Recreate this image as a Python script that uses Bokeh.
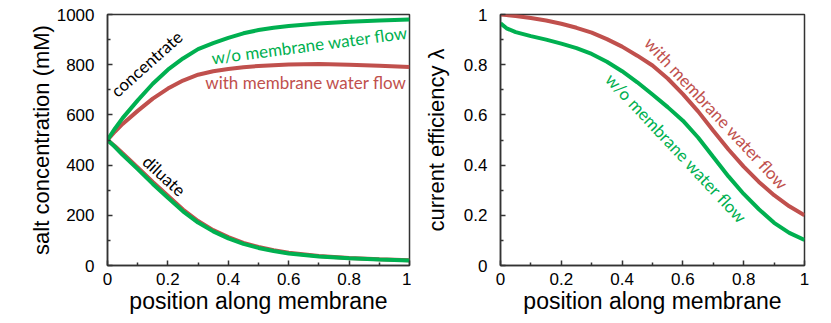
from bokeh.plotting import figure
from bokeh.layouts import row
from bokeh.models import Range1d, FixedTicker, Label
from bokeh.embed import file_html
from bokeh.resources import INLINE

# ---------------- data ----------------
x_conc = [0, 0.025, 0.05, 0.1, 0.15, 0.2, 0.25, 0.3, 0.35, 0.4, 0.45, 0.5, 0.55,
          0.6, 0.7, 0.8, 0.9, 1.0]
conc_wo = [500, 546, 587, 658, 724, 780, 825, 862, 886, 907, 925, 938, 947,
           954, 964, 971, 976, 980]
conc_with = [500, 534, 564, 616, 665, 705, 737, 760, 774, 783, 790, 795, 798,
             801, 803, 800, 796, 791]
dil_wo = [500, 472, 441, 384, 325, 270, 216, 171, 136, 108, 86, 70, 58,
          48, 36, 29, 24, 20]
dil_with = [500, 475, 447, 391, 333, 278, 223, 177, 141, 113, 90, 74, 61,
            51, 38, 30, 25, 21]

x_eff = [0, 0.02, 0.05, 0.1, 0.15, 0.2, 0.25, 0.3, 0.35, 0.4, 0.45, 0.5, 0.55,
         0.6, 0.65, 0.7, 0.75, 0.8, 0.85, 0.9, 0.95, 1.0]
eff_with = [1.0, 0.998, 0.994, 0.986, 0.976, 0.963, 0.947, 0.928, 0.902, 0.872,
            0.836, 0.797, 0.745, 0.683, 0.614, 0.537, 0.462, 0.394, 0.333,
            0.280, 0.236, 0.200]
eff_wo = [0.965, 0.945, 0.930, 0.914, 0.900, 0.884, 0.866, 0.843, 0.812, 0.774,
          0.730, 0.681, 0.631, 0.577, 0.510, 0.432, 0.355, 0.285, 0.224,
          0.170, 0.130, 0.102]

x_ticks = [0, 0.2, 0.4, 0.6, 0.8, 1.0]
x_tick_labels = ["0", "0.2", "0.4", "0.6", "0.8", "1"]
x_minor = [0.1, 0.3, 0.5, 0.7, 0.9]
conc_ticks = [0, 200, 400, 600, 800, 1000]
conc_tick_labels = ["0", "200", "400", "600", "800", "1000"]
conc_minor = [100, 300, 500, 700, 900]
eff_ticks = [0, 0.2, 0.4, 0.6, 0.8, 1.0]
eff_tick_labels = ["0", "0.2", "0.4", "0.6", "0.8", "1"]
eff_minor = [0.1, 0.3, 0.5, 0.7, 0.9]

GREEN = "#00B050"
RED = "#C0504D"
AXC = "#333333"
TICKFONT = "Liberation Sans"
ANNFONT = "Lato"
ANNSIZE = "17px"


def style(p, yticks, ylabels, yminor, ylabel, ylab_standoff):
    p.xaxis.ticker = FixedTicker(ticks=x_ticks, minor_ticks=x_minor)
    p.xaxis.major_label_overrides = {t: l for t, l in zip(x_ticks, x_tick_labels)}
    p.yaxis.ticker = FixedTicker(ticks=yticks, minor_ticks=yminor)
    p.yaxis.major_label_overrides = {t: l for t, l in zip(yticks, ylabels)}
    p.xaxis.axis_label = "position along membrane"
    p.yaxis.axis_label = ylabel
    for ax in (p.xaxis, p.yaxis):
        ax.axis_line_color = AXC
        ax.axis_line_width = 1.5
        ax.major_tick_line_color = AXC
        ax.minor_tick_line_color = AXC
        ax.major_tick_line_width = 1.5
        ax.minor_tick_line_width = 1.5
        ax.major_tick_in = 5
        ax.major_tick_out = 0
        ax.minor_tick_in = 3
        ax.minor_tick_out = 0
        ax.major_label_text_font = TICKFONT
        ax.major_label_text_font_size = "17px"
        ax.major_label_text_color = "black"
        ax.axis_label_text_font = TICKFONT
        ax.axis_label_text_font_style = "normal"
        ax.axis_label_text_color = "black"
    p.xaxis.axis_label_text_font_size = "23px"
    p.yaxis.axis_label_text_font_size = "22px"
    p.xaxis.major_label_standoff = 7
    p.xaxis.axis_label_standoff = 0
    p.yaxis.major_label_standoff = 13
    p.yaxis.axis_label_standoff = ylab_standoff
    p.xgrid.visible = False
    p.ygrid.visible = False
    p.outline_line_color = AXC
    p.outline_line_width = 1.5
    p.background_fill_color = "white"
    p.border_fill_color = "white"


def ann(p, x, y, text, angle, color):
    p.add_layout(Label(x=x, y=y, text=text, angle=angle,
                       text_align="center", text_baseline="middle",
                       text_font=ANNFONT, text_font_size=ANNSIZE,
                       text_color=color))


# ---------------- left panel ----------------
p1 = figure(width=411, height=323, output_backend="svg", toolbar_location=None,
            x_range=Range1d(0, 1), y_range=Range1d(0, 1000),
            min_border_left=107, min_border_right=2, min_border_top=14,
            min_border_bottom=58)
style(p1, conc_ticks, conc_tick_labels, conc_minor, "salt concentration (mM)", 0)

p1.line(x_conc, dil_with, line_color=RED, line_width=4)
p1.line(x_conc, dil_wo, line_color=GREEN, line_width=4)
p1.line(x_conc, conc_with, line_color=RED, line_width=4)
p1.line(x_conc, conc_wo, line_color=GREEN, line_width=4)

ann(p1, 0.129, 804, "concentrate", 0.73, "black")
ann(p1, 0.188, 358, "diluate", -0.74, "black")
ann(p1, 0.669, 878, "w/o membrane water flow", 0.13, GREEN)
ann(p1, 0.657, 728, "with membrane water flow", 0, RED)

# ---------------- right panel ----------------
p2 = figure(width=403, height=323, output_backend="svg", toolbar_location=None,
            x_range=Range1d(0, 1), y_range=Range1d(0, 1),
            min_border_left=89, min_border_right=10, min_border_top=14,
            min_border_bottom=58)
style(p2, eff_ticks, eff_tick_labels, eff_minor, "current efficiency λ", 12)

p2.line(x_eff, eff_with, line_color=RED, line_width=4)
p2.line(x_eff, eff_wo, line_color=GREEN, line_width=4)

ann(p2, 0.711, 0.606, "with membrane water flow", -0.82, RED)
ann(p2, 0.579, 0.467, "w/o membrane water flow", -0.82, GREEN)

layout = row(p1, p2)
open("out.html", "w").write(file_html(layout, INLINE))
